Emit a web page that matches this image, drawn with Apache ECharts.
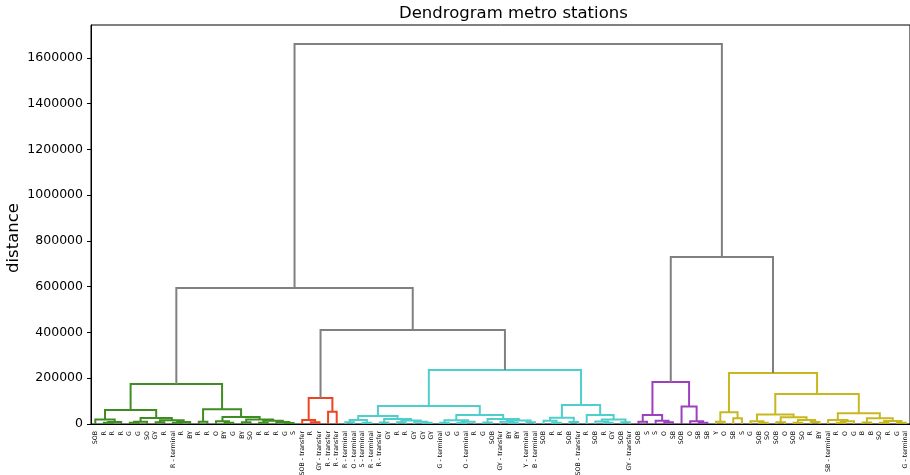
<!DOCTYPE html>
<html>
<head>
<meta charset="utf-8">
<script src="https://cdn.jsdelivr.net/npm/echarts@6/dist/echarts.min.js"></script>
<style>
html,body{margin:0;padding:0;background:#fff;}
#chart{width:910px;height:475px;}
</style>
</head>
<body>
<div id="chart"></div>
<script>
// ---------- DATA ----------
const leafLabels = [
  'SOB','R','R','R','G','G','SO','GY','R','R - terminal','R','BY','R','R','O','BY','G','BY','SO','R','R','R','G','S',
  'SOB - transfer','R','GY - transfer','R - transfer','R - transfer',
  'R - terminal','O - terminal','S - terminal','R - terminal','R - transfer','GY','R','R','GY','GY','GY','G - terminal','G','G','O - terminal','R','G','SOB','GY - transfer','BY','BY','Y - terminal','B - terminal','SOB','R','R','SOB','SOB - transfer','R','SOB','R','GY','SOB','GY - transfer',
  'SOB','S','S','O','SB','SOB','O','SB','SB',
  'Y','O','SB','S','G','SOB','SO','SOB','O','SOB','SO','R','BY','SB - terminal','R','O','G','B','B','SO','R','G','G - terminal'
];

const yTicks = [0, 200000, 400000, 600000, 800000, 1000000, 1200000, 1400000, 1600000];

// merges: [name, left, right, height]; number = leaf index, string = earlier merge
const greenLinks = [
  ['g1',1,2,5000],['g2','g1',3,9000],['gA',0,'g2',20000],
  ['g3',4,5,6000],['gC','g3',6,10000],['g4',7,8,8000],['g5',9,10,5000],['g6','g5',11,9000],
  ['gD','g4','g6',16000],['gB','gC','gD',26000],['gL','gA','gB',61000],
  ['g7',12,13,10000],['g8',15,16,6000],['gX',14,'g8',12000],['g9',17,18,8000],['g10',19,20,5000],
  ['g11',22,23,4000],['g12',21,'g11',9000],['g13','g10','g12',14000],['gY','g9','g13',20000],
  ['g14','gX','gY',31000],['gR','g7','g14',65000],['green','gL','gR',175000]
];
const redLinks = [
  ['r1',25,26,8000],['r2',24,'r1',17000],['r3',27,28,54000],['red','r2','r3',113700]
];
const cyanLinks = [
  ['c1',29,30,8000],['c2',31,32,6000],['cP','c1','c2',17000],
  ['c3',33,34,7000],['c4',35,36,8000],['c5',38,39,5000],['c6',37,'c5',10000],['c7','c4','c6',15000],['cQ','c3','c7',22000],
  ['cL1','cP','cQ',35000],
  ['c8',40,41,6000],['c9',42,43,5000],['c10','c9',44,10000],['c11','c8','c10',16000],
  ['c12',45,46,7000],['c13',48,49,5000],['c14',47,'c13',10000],['c15',50,51,8000],['c16','c14','c15',15000],['c17','c12','c16',22000],
  ['cL2','c11','c17',39000],['cL','cL1','cL2',78700],
  ['c18',53,54,6000],['c19',52,'c18',14000],['c20',55,56,9000],['c21','c19','c20',27700],
  ['c22',59,60,5000],['c23',58,'c22',11000],['c24',61,62,8000],['c25','c23','c24',20000],['c26',57,'c25',39000],
  ['cR','c21','c26',83000],['cyan','cL','cR',236000]
];
const purpleLinks = [
  ['p1',63,64,10000],['p2',66,67,8000],['p3',65,'p2',14000],['p4','p1','p3',39000],
  ['p5',70,71,6000],['p6',69,'p5',12000],['p7',68,'p6',76000],['purple','p4','p7',183600]
];
const yellowLinks = [
  ['y1',72,73,10000],['y2',74,75,25000],['yL','y1','y2',51000],
  ['y3',77,78,6000],['y4',76,'y3',12000],['y5',79,80,8000],['y6',81,82,5000],['y7',83,84,9000],
  ['y8','y6','y7',18000],['y9','y5','y8',30000],['y10','y4','y9',42000],
  ['y11',86,87,6000],['y12','y11',88,12000],['y13',85,'y12',18000],['y14',89,90,7000],['y15',91,92,6000],
  ['y16',93,94,5000],['y17','y15','y16',13000],['y18','y14','y17',25000],['y19','y13','y18',47000],
  ['yR','y10','y19',131000],['yellow','yL','yR',223000]
];
const upperLinks = [
  ['rc','red','cyan',411000],['left','green','rc',594500],['right','purple','yellow',730000],['root','left','right',1661200]
];

// ---------- STYLE ----------
const groups = [
  {links: greenLinks,  color: '#3f8d22'},
  {links: redLinks,    color: '#ee4422'},
  {links: cyanLinks,   color: '#4fcfcc'},
  {links: purpleLinks, color: '#9c40c0'},
  {links: yellowLinks, color: '#c8b820'},
  {links: upperLinks,  color: '#808080'}
];

// ---------- BUILD ----------
const nodes = {};
function node(ref){
  if (typeof ref === 'number') return {x: ref, y: 0};
  return nodes[ref];
}
const lineData = [];
groups.forEach(g => {
  g.links.forEach(([name, l, r, h]) => {
    const a = node(l), b = node(r);
    nodes[name] = {x: (a.x + b.x) / 2, y: h};
    lineData.push({
      coords: [[a.x, a.y], [a.x, h], [b.x, h], [b.x, b.y]],
      lineStyle: {color: g.color}
    });
  });
});
const rootH = upperLinks[upperLinks.length - 1][3];
const n = leafLabels.length;

const chart = echarts.init(document.getElementById('chart'), null, {renderer: 'canvas'});
chart.setOption({
  animation: false,
  backgroundColor: '#fff',
  textStyle: {fontFamily: 'DejaVu Sans'},
  title: {
    text: 'Dendrogram metro stations',
    left: 394, top: 0,
    textStyle: {fontSize: 16.5, fontWeight: 'normal', color: '#000', fontFamily: 'DejaVu Sans'}
  },
  graphic: [{
    type: 'text', x: 14, y: 238, rotation: Math.PI / 2,
    style: {text: 'distance', fontSize: 16.5, fontFamily: 'DejaVu Sans', fill: '#000', align: 'center', verticalAlign: 'middle'}
  }],
  grid: {left: 91, right: 0, top: 25, bottom: 51, show: true, borderColor: '#000', borderWidth: 1, outerBoundsMode: 'none', containLabel: false},
  xAxis: [
    {
      type: 'category', data: leafLabels, boundaryGap: true, position: 'bottom',
      axisLine: {show: true, onZero: false, lineStyle: {color: '#000', width: 1}},
      axisTick: {show: false},
      splitLine: {show: false},
      axisLabel: {interval: 0, rotate: 90, fontSize: 6.3, margin: 7, color: '#000', fontFamily: 'DejaVu Sans'}
    },
    {type: 'value', min: -0.5, max: n - 0.5, show: false}
  ],
  yAxis: {
    type: 'value', min: 0, max: rootH * 1.05, position: 'left',
    axisLine: {show: true, onZero: false, lineStyle: {color: '#000', width: 1}},
    axisTick: {show: true, length: 4, customValues: yTicks, lineStyle: {color: '#000'}},
    axisLabel: {customValues: yTicks, fontSize: 12.5, color: '#000', margin: 8, fontFamily: 'DejaVu Sans',
      formatter: v => String(v)},
    splitLine: {show: false}
  },
  series: [{
    type: 'lines',
    coordinateSystem: 'cartesian2d',
    xAxisIndex: 1, yAxisIndex: 0,
    polyline: true,
    silent: true,
    lineStyle: {width: 2, opacity: 1},
    data: lineData
  }]
});
</script>
</body>
</html>
